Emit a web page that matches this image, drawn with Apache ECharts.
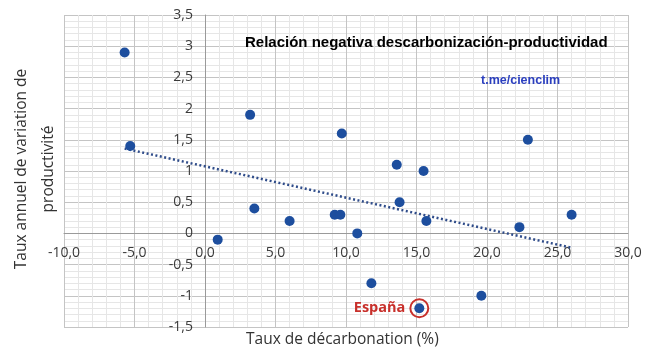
<!DOCTYPE html>
<html><head><meta charset="utf-8">
<script src="https://cdn.jsdelivr.net/npm/echarts@6/dist/echarts.min.js"></script>
<style>html,body{margin:0;padding:0;background:#fff}#c{width:654px;height:360px}</style>
</head><body><div id="c"></div>
<script>
// Decarbonisation rate (%) and annual productivity change
var decarbX = [-5.7, -5.3, 3.2, 9.7, 13.6, 15.5, 22.9, 0.9, 3.5, 6.0, 9.2, 9.6, 10.8, 13.8, 15.7, 22.3, 26.0, 11.8, 19.6, 15.2];
var productY = [2.9, 1.4, 1.9, 1.6, 1.1, 1.0, 1.5, -0.1, 0.4, 0.2, 0.3, 0.3, 0.0, 0.5, 0.2, 0.1, 0.3, -0.8, -1.0, -1.2];
var spainX = [15.2];
var spainY = [-1.2];
var trendX = [-5.7, 26.0];
var trendY = [1.36, -0.23];
var xTicks = [-10, -5, 0, 5, 10, 15, 20, 25, 30];
var yTicks = [-1.5, -1, -0.5, 0, 0.5, 1, 1.5, 2, 2.5, 3, 3.5];
var titleText = 'Relación negativa descarbonización-productividad';
var sourceText = 't.me/cienclim';
var spainLabel = 'España';
var xTitle = 'Taux de décarbonation (%)';
var yTitle = 'Taux annuel de variation de\nproductivité';

function zip(a, b) { return a.map(function (v, i) { return [v, b[i]]; }); }

var W = 654, H = 360;
var gridL = 64, gridR = 26, gridT = 15, gridB = 33;
var plotW = W - gridL - gridR, plotH = H - gridT - gridB;
var xMin = xTicks[0], xMax = xTicks[xTicks.length - 1];
var yMin = yTicks[0], yMax = yTicks[yTicks.length - 1];
// offsets that move the axes to cross at zero (like Excel)
var xAxisOffset = -plotH * (0 - yMin) / (yMax - yMin);
var yAxisOffset = -plotW * (0 - xMin) / (xMax - xMin);

var chart = echarts.init(document.getElementById('c'));
var lblFont = '"Open Sans", sans-serif';
chart.setOption({
  animation: false,
  title: [
    { text: titleText, left: 240, top: 30, textStyle: { fontFamily: '"Liberation Sans", Arial, sans-serif', fontWeight: 'bold', fontSize: 15, color: '#000' } },
    { text: sourceText, left: 476, top: 69, textStyle: { fontFamily: '"Liberation Sans", Arial, sans-serif', fontWeight: 'bold', fontSize: 12.5, color: '#2b3fbf' } }
  ],
  grid: { left: gridL, right: gridR, top: gridT, bottom: gridB, containLabel: false },
  xAxis: {
    type: 'value', min: xMin, max: xMax, interval: 5, offset: xAxisOffset,
    axisLine: { onZero: false, lineStyle: { color: '#9a9a9a', width: 1 } },
    axisTick: { show: false },
    axisLabel: { margin: 13, fontFamily: lblFont, fontSize: 14, color: '#3a3a3a', formatter: function (v) { return v.toFixed(1).replace('.', ','); } },
    splitLine: { show: true, lineStyle: { color: '#c4c4c4', width: 1 } },
    minorTick: { show: false, splitNumber: 5 },
    minorSplitLine: { show: true, lineStyle: { color: '#e6e6e6', width: 1 } }
  },
  yAxis: {
    type: 'value', min: yMin, max: yMax, interval: 0.5, offset: yAxisOffset,
    axisLine: { onZero: false, lineStyle: { color: '#9a9a9a', width: 1 } },
    axisTick: { show: false },
    axisLabel: { margin: 12, fontFamily: lblFont, fontSize: 14, color: '#3a3a3a', formatter: function (v) { return String(v).replace('.', ','); } },
    splitLine: { show: true, lineStyle: { color: '#c4c4c4', width: 1 } },
    minorTick: { show: false, splitNumber: 5 },
    minorSplitLine: { show: true, lineStyle: { color: '#e6e6e6', width: 1 } }
  },
  graphic: [
    { type: 'text', left: 246, top: 332, style: { text: xTitle, font: '15.5px "Open Sans", sans-serif', fill: '#333' } },
    { type: 'text', x: 35, y: 169, rotation: Math.PI / 2, style: { text: yTitle, font: '15.5px "Open Sans", sans-serif', fill: '#333', align: 'center', verticalAlign: 'middle', lineHeight: 27 } }
  ],
  series: [
    { type: 'line', data: zip(trendX, trendY), symbol: 'none', lineStyle: { color: '#2f4c8a', width: 2.5, type: [2, 2.5] }, z: 2 },
    { type: 'scatter', data: zip(decarbX, productY), symbol: 'circle', symbolSize: 10, itemStyle: { color: '#1d4e9e', opacity: 1 }, z: 3 },
    { type: 'scatter', data: zip(spainX, spainY), symbol: 'circle', symbolSize: 18, z: 4,
      itemStyle: { color: 'rgba(0,0,0,0)', borderColor: '#c8302b', borderWidth: 2, opacity: 1 },
      label: { show: true, position: 'left', distance: 4, formatter: spainLabel, fontFamily: '"Open Sans", sans-serif', fontWeight: 'bold', fontSize: 14.5, color: '#c8302b' } }
  ]
});
</script></body></html>
